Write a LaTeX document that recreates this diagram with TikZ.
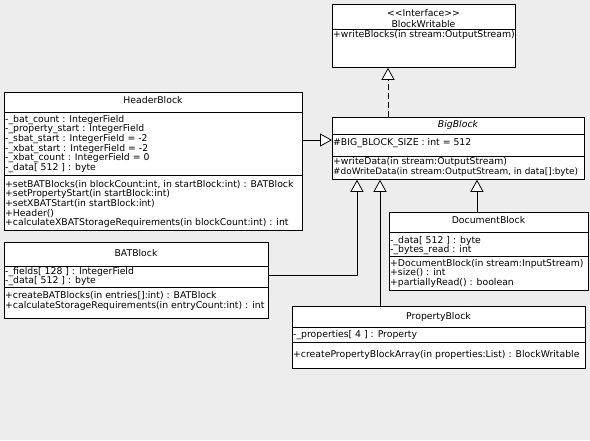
\documentclass[tikz,border=0pt]{standalone}
\usepackage{fontspec}
\setmainfont{DejaVu Sans}
\usetikzlibrary{arrows.meta}

\tikzset{
  cls/.style={draw, fill=white, anchor=north west, line width=0.8pt},
  member/.style={anchor=west},
  title/.style={anchor=center},
  gen/.style={line width=0.8pt, -{Triangle[length=12pt, width=13pt, fill=white, line width=0.8pt]}}
}

\begin{document}
\begin{tikzpicture}[x=1pt, y=-1pt, every node/.style={font=\fontsize{9.3}{10}\selectfont, inner sep=0pt}]
  \fill[black!7] (0,0) rectangle (590,440);
  \useasboundingbox (0,0) rectangle (590,440);

  % interface
  \node[cls, minimum width=183pt, minimum height=63pt] (writable) at (332,4) {};
  \node[title] (writable t1) at (423.5,13) {<{}<Interface>{}>};
  \node[title] (writable t2) at (423.5,24) {BlockWritable};
  \draw[line width=0.8pt] (writable.west |- 0,29) -- (writable.east |- 0,29);
  \node[member] (writable m1) at (333,35) {+writeBlocks(in stream:OutputStream)};

  % abstract class
  \node[cls, minimum width=252pt, minimum height=62pt] (big) at (332,117) {};
  \node[title] (big t) at (458,124.5) {\itshape BigBlock};
  \draw[line width=0.8pt] (big.west |- 0,134) -- (big.east |- 0,134);
  \node[member] (big a1) at (333,143) {\#BIG\_BLOCK\_SIZE : int = 512};
  \draw[line width=0.8pt] (big.west |- 0,156) -- (big.east |- 0,156);
  \node[member] (big m1) at (333,162) {+writeData(in stream:OutputStream)};
  \node[member, font=\fontsize{8.9}{10}\selectfont] (big m2) at (333,172) {\#doWriteData(in stream:OutputStream, in data[]:byte)};

  % header
  \node[cls, minimum width=298pt, minimum height=138pt] (header) at (4,92) {};
  \node[title] (header t) at (153,100.5) {HeaderBlock};
  \draw[line width=0.8pt] (header.west |- 0,112) -- (header.east |- 0,112);
  \foreach \txt [count=\i] in {-\_bat\_count : IntegerField, -\_property\_start : IntegerField,
      -\_sbat\_start : IntegerField = -2, -\_xbat\_start : IntegerField = -2,
      -\_xbat\_count : IntegerField = 0, -\_data[ 512 ] : byte}
    \node[member] (header a\i) at (5,110+9.7*\i) {\txt};
  \draw[line width=0.8pt] (header.west |- 0,175) -- (header.east |- 0,175);
  \foreach \txt [count=\i] in {{+setBATBlocks(in blockCount:int, in startBlock:int) : BATBlock},
      +setPropertyStart(in startBlock:int), +setXBATStart(in startBlock:int), +Header(),
      +calculateXBATStorageRequirements(in blockCount:int) : int}
    \node[member] (header m\i) at (5,174.5+9.7*\i) {\txt};

  % bat
  \node[cls, minimum width=264pt, minimum height=76pt] (bat) at (4,242) {};
  \node[title] (bat t) at (136,253.5) {BATBlock};
  \draw[line width=0.8pt] (bat.west |- 0,266) -- (bat.east |- 0,266);
  \node[member] (bat a1) at (5,272) {-\_fields[ 128 ] : IntegerField};
  \node[member] (bat a2) at (5,281.5) {-\_data[ 512 ] : byte};
  \draw[line width=0.8pt] (bat.west |- 0,287.5) -- (bat.east |- 0,287.5);
  \node[member] (bat m1) at (5,296) {+createBATBlocks(in entries[]:int) : BATBlock};
  \node[member] (bat m2) at (5,306) {+calculateStorageRequirements(in entryCount:int) : int};

  % document
  \node[cls, minimum width=199pt, minimum height=78pt] (document) at (389,212) {};
  \node[title] (document t) at (488.5,220.5) {DocumentBlock};
  \draw[line width=0.8pt] (document.west |- 0,232) -- (document.east |- 0,232);
  \node[member] (document a1) at (390,241) {-\_data[ 512 ] : byte};
  \node[member] (document a2) at (390,250.3) {-\_bytes\_read : int};
  \draw[line width=0.8pt] (document.west |- 0,256) -- (document.east |- 0,256);
  \node[member] (document m1) at (390,263.5) {+DocumentBlock(in stream:InputStream)};
  \node[member] (document m2) at (390,273) {+size() : int};
  \node[member] (document m3) at (390,283) {+partiallyRead() : boolean};

  % property
  \node[cls, minimum width=293pt, minimum height=62pt] (property) at (292,306) {};
  \node[title] (property t) at (438.5,316.5) {PropertyBlock};
  \draw[line width=0.8pt] (property.west |- 0,327) -- (property.east |- 0,327);
  \node[member] (property a1) at (293,335) {-\_properties[ 4 ] : Property};
  \draw[line width=0.8pt] (property.west |- 0,342) -- (property.east |- 0,342);
  \node[member] (property m1) at (293,355) {+createPropertyBlockArray(in properties:List) : BlockWritable};

  % generalisation
  \draw[gen, dash pattern=on 6pt off 3pt] (388,0 |- big.north) -- (388,0 |- writable.south);
  \draw[gen] (header.east |- 0,140) -- (big.west |- 0,140);
  \draw[gen] (bat.east |- 0,275) -| (357,0 |- big.south);
  \draw[gen] (380,0 |- property.north) -- (380,0 |- big.south);
  \draw[gen] (477,0 |- document.north) -- (477,0 |- big.south);
\end{tikzpicture}
\end{document}
